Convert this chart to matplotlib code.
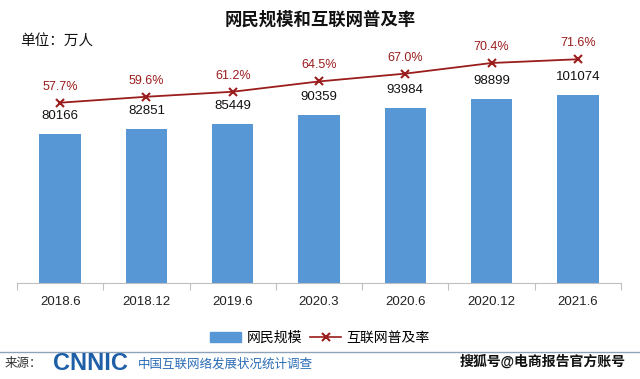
import numpy as np
import matplotlib
matplotlib.use("Agg")
import matplotlib.pyplot as plt
from matplotlib.patches import Patch
from matplotlib.lines import Line2D

plt.rcParams['font.family']=['Liberation Sans','Noto Sans CJK SC','DejaVu Sans']

periods=["2018.6","2018.12","2019.6","2020.3","2020.6","2020.12","2021.6"]
users=[80166,82851,85449,90359,93984,98899,101074]
rate=[57.7,59.6,61.2,64.5,67.0,70.4,71.6]

BAR_C="#5797d6"
LINE_C="#9b1c1c"

fig=plt.figure(figsize=(6.4,3.79),dpi=100)
ax=fig.add_axes([17/640,1-283/379,604/640,255/379])
x=np.arange(len(periods))

ax.bar(x,users,width=0.48,color=BAR_C,zorder=2)
ax.set_xlim(-0.5,len(periods)-0.5)
ax.set_ylim(0,137000)
for xi,v in zip(x,users):
	ax.text(xi,v+6500,str(v),ha="center",va="bottom",fontsize=9.5,color="#111111")

ax2=ax.twinx()
ax2.plot(x,rate,color=LINE_C,lw=1.3,marker="x",ms=6,mew=1.5,zorder=3)
ax2.set_ylim(0,81.6)
for xi,r in zip(x,rate):
	ax2.text(xi,r+3.2,f"{r:.1f}%",ha="center",va="bottom",fontsize=9,color=LINE_C)

for a in (ax,ax2):
	for s in a.spines.values():
		s.set_visible(False)
	a.set_yticks([])
ax.spines['bottom'].set_visible(True)
ax.spines['bottom'].set_color("#bfbfbf")
ax.set_xticks(np.arange(-0.5,len(periods),1.0))
ax.set_xticklabels([])
ax.tick_params(axis="x",length=5,color="#bfbfbf")
for xi,p in zip(x,periods):
	ax.text(xi,-0.075,p,transform=ax.get_xaxis_transform(),ha="center",va="center",fontsize=9.5,color="#222222")

fig.text(0.5,1-19/379,"网民规模和互联网普及率",ha="center",va="center",fontsize=12.5,fontweight="bold",color="#111111")
fig.text(20/640,1-42/379,"单位：万人",ha="left",va="center",fontsize=10.5,color="#111111")

handles=[Patch(color=BAR_C,label="网民规模"),
	Line2D([],[],color=LINE_C,marker="x",ms=6,mew=1.5,lw=1.2,label="互联网普及率")]
fig.legend(handles=handles,loc="center",bbox_to_anchor=(0.5,1-338/379),ncol=2,frameon=False,
	fontsize=10,handlelength=2.2,columnspacing=0.6,handletextpad=0.4)

fig.add_artist(Line2D([0,1],[1-352/379,1-352/379],color="#8fa3b8",lw=1))
fig.text(5/640,1-364/379,"来源：",ha="left",va="center",fontsize=9,color="#333333")
fig.text(53/640,1-364/379,"CNNIC",ha="left",va="center",fontsize=17,fontweight="bold",color="#1f5fa8")
fig.text(138/640,1-364/379,"中国互联网络发展状况统计调查",ha="left",va="center",fontsize=9,color="#2a6cb5")
fig.text(626/640,1-362/379,"搜狐号@电商报告官方账号",ha="right",va="center",fontsize=10,fontweight="bold",color="#111111")

fig.savefig("out.png",dpi=100)
